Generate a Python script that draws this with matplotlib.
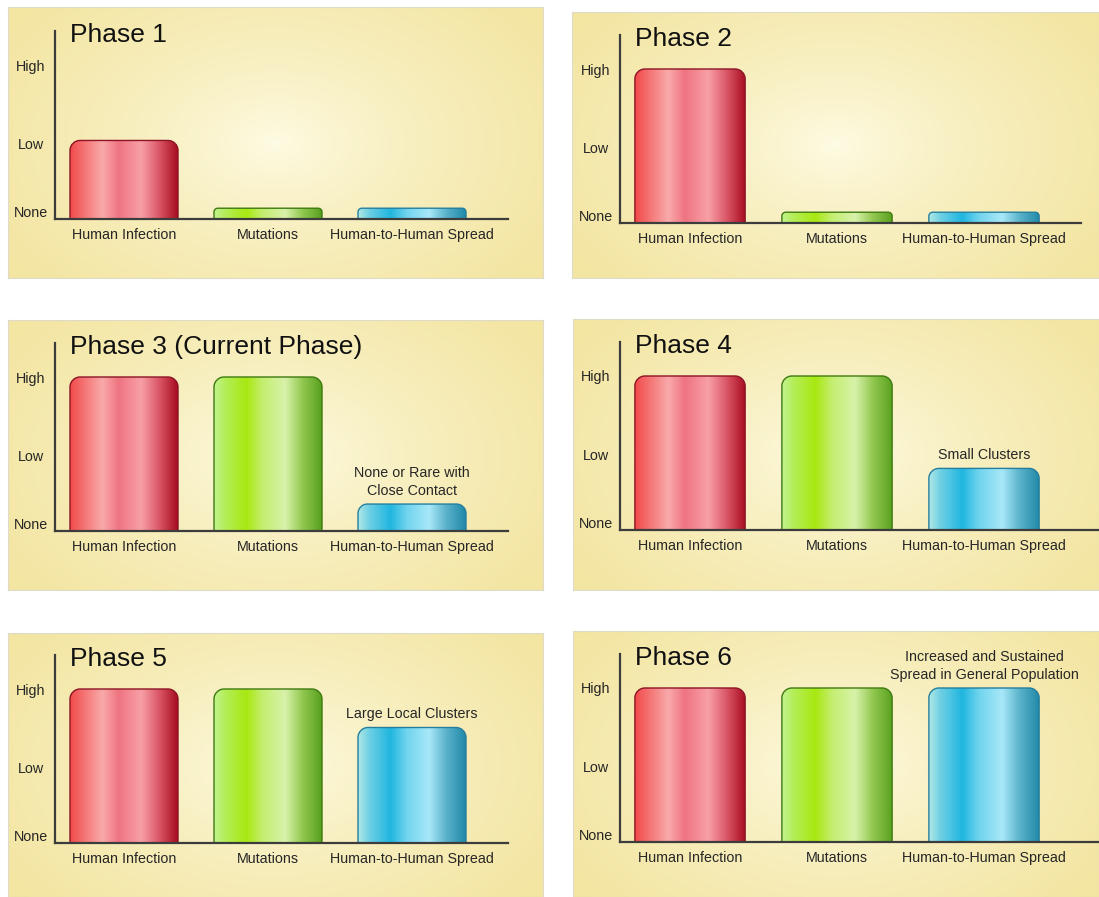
import numpy as np
import matplotlib
matplotlib.use("Agg")
import matplotlib.pyplot as plt
from matplotlib.path import Path
from matplotlib.patches import PathPatch
from matplotlib.colors import to_rgb

plt.rcParams["font.family"] = ["Liberation Sans", "DejaVu Sans"]

# --- data (High = 1.0) ---
phases = ["Phase 1", "Phase 2", "Phase 3 (Current Phase)", "Phase 4", "Phase 5", "Phase 6"]
categories = ["Human Infection", "Mutations", "Human-to-Human Spread"]
level_labels = ["None", "Low", "High"]
level_values = [0.05, 0.49, 1.0]
human_infection = [0.51, 1.0, 1.0, 1.0, 1.0, 1.0]
mutations = [0.07, 0.07, 1.0, 1.0, 1.0, 1.0]
h2h_spread = [0.07, 0.07, 0.175, 0.40, 0.75, 1.0]
spread_notes = ["", "", "None or Rare with\nClose Contact", "Small Clusters",
                "Large Local Clusters", "Increased and Sustained\nSpread in General Population"]

# --- layout (pixels of the 1099x897 picture) ---
W, H = 1099, 897
panel_boxes = [(8, 7, 543, 278), (572, 12, 1099, 278), (8, 320, 543, 590),
               (573, 319, 1099, 590), (8, 633, 543, 897), (573, 631, 1099, 897)]
baselines = [219, 223, 531, 530, 843, 842]
axis_right = [508, 1081, 508, 1099, 508, 1099]
axis_x = [55, 620]
centre0 = [124, 690]
spacing = [144, 147]
AX_H = 188
HIGH_PX = 154

# bar styling: horizontal "cylinder" gradients
stop_pos = [0.0, 0.1, 0.3, 0.45, 0.66, 0.82, 1.0]
bar_stops = [
    (["#f24a4a", "#f46a6a", "#f9aaaa", "#ef7482", "#f8a0a6", "#dc5a6a", "#a80c20"],
     "#8c1424"),
    (["#c2f290", "#b4ee5a", "#a8e810", "#c4ee70", "#d8f2aa", "#92c850", "#58a01e"],
     "#3e7a10"),
    (["#b0e8e6", "#70d0e4", "#20b6e0", "#70d4ee", "#a8e8f8", "#5ab2ca", "#2088a8"],
     "#257e9e"),
]
TEXT = "#262626"


def gradient_row(colors, n=240):
    rgb = np.array([to_rgb(c) for c in colors])
    xs = np.linspace(0, 1, n)
    row = np.stack([np.interp(xs, stop_pos, rgb[:, k]) for k in range(3)], axis=-1)
    return row[np.newaxis, :, :]


def rounded_top(x0, w, h, rx, ry):
    k = 0.5523
    verts = [(x0, 0), (x0, h - ry),
             (x0, h - ry + k * ry), (x0 + rx - k * rx, h), (x0 + rx, h),
             (x0 + w - rx, h),
             (x0 + w - rx + k * rx, h), (x0 + w, h - ry + k * ry), (x0 + w, h - ry),
             (x0 + w, 0), (x0, 0)]
    codes = [Path.MOVETO, Path.LINETO,
             Path.CURVE4, Path.CURVE4, Path.CURVE4,
             Path.LINETO,
             Path.CURVE4, Path.CURVE4, Path.CURVE4,
             Path.LINETO, Path.CLOSEPOLY]
    return Path(verts, codes)


def background(x0, y0, x1, y1):
    w, h = x1 - x0, y1 - y0
    yy, xx = np.mgrid[0:1:h * 1j, 0:1:w * 1j]
    d = np.sqrt(((xx - 0.5) / 0.6) ** 2 + ((yy - 0.5) / 0.78) ** 2)
    t = np.clip(d, 0, 1) ** 0.7
    centre = np.array(to_rgb("#fefce6"))
    edge = np.array(to_rgb("#f3e5a2"))
    return centre * (1 - t[..., None]) + edge * t[..., None]


fig = plt.figure(figsize=(W / 100, H / 100), dpi=100)
fig.patch.set_facecolor("white")

for i, phase in enumerate(phases):
    col = i % 2
    x0, y0, x1, y1 = panel_boxes[i]

    bg = fig.add_axes([x0 / W, 1 - y1 / H, (x1 - x0) / W, (y1 - y0) / H], zorder=0)
    bg.imshow(background(x0, y0, x1, y1), aspect="auto", interpolation="bilinear")
    bg.set_xticks([])
    bg.set_yticks([])
    for s in bg.spines.values():
        s.set_color("#dedbc8")
        s.set_linewidth(0.8)

    left, right = axis_x[col], axis_right[i]
    base = baselines[i]
    ax = fig.add_axes([left / W, 1 - base / H, (right - left) / W, AX_H / H], zorder=1)
    ax.patch.set_visible(False)
    sp = spacing[col]

    values = [human_infection[i], mutations[i], h2h_spread[i]]
    xs = np.arange(len(categories))
    bars = ax.bar(xs, values, width=0.75, color="none", edgecolor="none")

    for j, rect in enumerate(bars):
        bx, bw, bh = rect.get_x(), rect.get_width(), rect.get_height()
        r_px = min(10.0, 0.35 * bh * HIGH_PX)
        path = rounded_top(bx, bw, bh, r_px / sp, r_px / HIGH_PX)
        colors, edge = bar_stops[j]
        patch = PathPatch(path, facecolor="none", edgecolor=edge, lw=1.0, zorder=3)
        ax.add_patch(patch)
        im = ax.imshow(gradient_row(colors), extent=[bx, bx + bw, 0, bh],
                       aspect="auto", interpolation="bilinear", zorder=2)
        im.set_clip_path(patch)

    ax.set_xlim((left - centre0[col]) / sp, (right - centre0[col]) / sp)
    ax.set_ylim(0, AX_H / HIGH_PX)

    note = spread_notes[i]
    if note:
        ax.annotate(note, xy=(xs[2], values[2]), xytext=(0, 4.5), textcoords="offset points",
                    ha="center", va="bottom", fontsize=10.3, color=TEXT, linespacing=1.35)

    ax.set_xticks(xs)
    ax.set_xticklabels(categories, fontsize=10.3, color=TEXT)
    ax.set_yticks(level_values)
    ax.set_yticklabels(level_labels, fontsize=10.3, color=TEXT)
    for lbl in ax.get_yticklabels():
        lbl.set_ha("center")
    ax.tick_params(axis="y", length=0, pad=17.3)
    ax.tick_params(axis="x", length=0, pad=6.5)

    for s in ["top", "right"]:
        ax.spines[s].set_visible(False)
    for s in ["left", "bottom"]:
        ax.spines[s].set_color("#3c3c3c")
        ax.spines[s].set_linewidth(1.6)
        ax.spines[s].set_zorder(4)

    top = base - AX_H
    fig.text((left + 15) / W, 1 - (top + 11) / H, phase, fontsize=19,
             color="#111111", ha="left", va="baseline")

fig.savefig("out.png", dpi=100)
